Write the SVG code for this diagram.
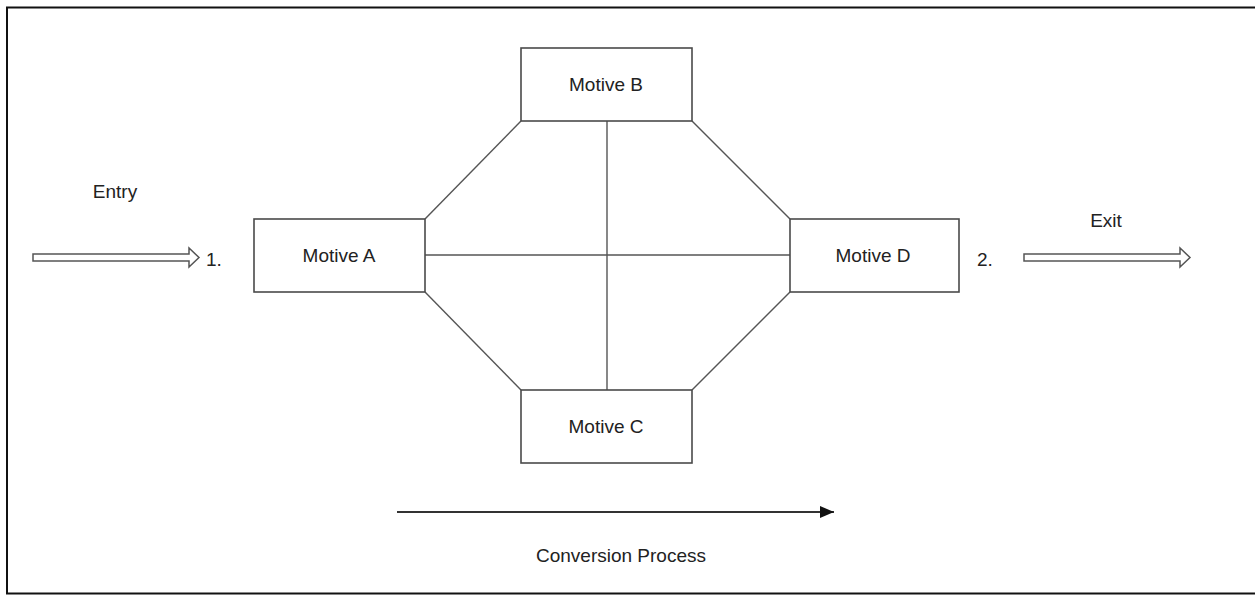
<svg xmlns="http://www.w3.org/2000/svg" width="1255" height="596" viewBox="0 0 1255 596">
<style>
.box{fill:#fff;stroke:#4a4a4a;stroke-width:1.6}
.ln{stroke:#555;stroke-width:1.4;fill:none}
.hollow{fill:#fff;stroke:#555;stroke-width:1.5;stroke-linejoin:miter}
text{font-family:"Liberation Sans",Arial,sans-serif;font-size:19px;fill:#222}
.c{text-anchor:middle}
</style>
<defs>
<marker id="ah" markerWidth="14" markerHeight="12" refX="14" refY="6" orient="auto" markerUnits="userSpaceOnUse">
<path d="M0,0 L14,6 L0,12 Z" fill="#111"/>
</marker>
</defs>
<rect x="7" y="7.5" width="1260" height="586" fill="#fff" stroke="#111" stroke-width="2"/>
<g id="connectors">
<line class="ln" x1="425" y1="219" x2="521" y2="121"/>
<line class="ln" x1="692" y1="121" x2="790" y2="219"/>
<line class="ln" x1="425" y1="292" x2="521" y2="390"/>
<line class="ln" x1="692" y1="390" x2="790" y2="292"/>
<line class="ln" x1="607" y1="121" x2="607" y2="390"/>
<line class="ln" x1="425" y1="255" x2="790" y2="255"/>
<line x1="397" y1="512" x2="834" y2="512" stroke="#333" stroke-width="1.8" marker-end="url(#ah)"/>
</g>
<g id="entry">
<path class="hollow" d="M33,254 L189,254 L189,248 L199,257.5 L189,267 L189,261 L33,261 Z"/>
<text class="c" x="115" y="198">Entry</text>
<text x="206" y="266">1.</text>
</g>
<g id="exit">
<path class="hollow" d="M1024,254 L1180,254 L1180,248 L1190,257.5 L1180,267 L1180,261 L1024,261 Z"/>
<text class="c" x="1106" y="227">Exit</text>
<text x="977" y="266">2.</text>
</g>
<g id="motiveA">
<rect class="box" x="254" y="219" width="171" height="73"/>
<text class="c" x="339" y="262">Motive A</text>
</g>
<g id="motiveB">
<rect class="box" x="521" y="48" width="171" height="73"/>
<text class="c" x="606" y="91">Motive B</text>
</g>
<g id="motiveC">
<rect class="box" x="521" y="390" width="171" height="73"/>
<text class="c" x="606" y="433">Motive C</text>
</g>
<g id="motiveD">
<rect class="box" x="790" y="219" width="169" height="73"/>
<text class="c" x="873" y="262">Motive D</text>
</g>
<g id="conversion">
<text class="c" x="621" y="562">Conversion Process</text>
</g>
</svg>
